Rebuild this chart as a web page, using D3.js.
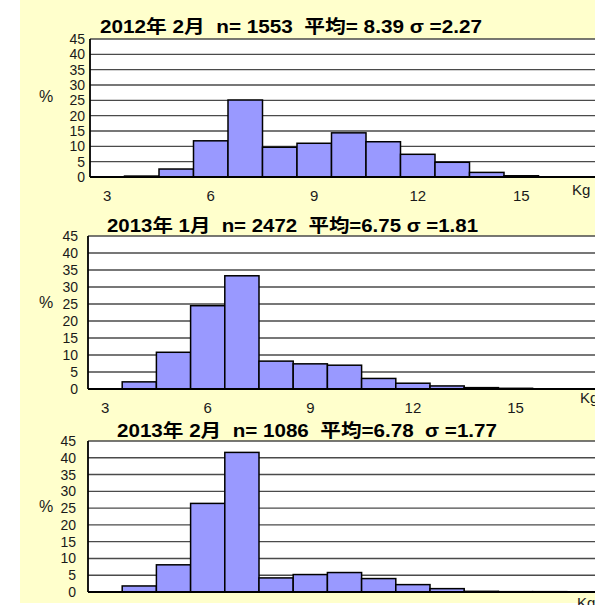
<!DOCTYPE html>
<html>
<head>
<meta charset="utf-8">
<script src="https://cdn.jsdelivr.net/npm/d3@7"></script>
<style>
  body { margin: 0; background: #fff; }
  svg { display: block; }
  text { font-family: "Liberation Sans", Arial, "Noto Sans CJK JP", sans-serif; }
</style>
</head>
<body>
<script>
var width = 595;
var height = 605;

// kg classes (bars centred on whole kilograms)
var kg = [3, 4, 5, 6, 7, 8, 9, 10, 11, 12, 13, 14, 15, 16, 17];
var xTicks = [3, 6, 9, 12, 15];
var yTicks = [0, 5, 10, 15, 20, 25, 30, 35, 40, 45];

// percent of fish in each class
var feb2012 = [0, 0.3, 2.6, 11.8, 25.1, 9.7, 11.0, 14.4, 11.5, 7.4, 4.8, 1.5, 0.4, 0, 0];
var jan2013 = [0, 2.1, 10.8, 24.5, 33.3, 8.2, 7.4, 7.0, 3.1, 1.7, 0.9, 0.4, 0.2, 0, 0];
var feb2013 = [0, 1.8, 8.1, 26.4, 41.6, 4.2, 5.2, 5.8, 4.0, 2.2, 1.0, 0.2, 0.1, 0.1, 0];

var titles = [
  "2012年 2月  n= 1553  平均= 8.39 σ =2.27",
  "2013年 1月  n= 2472  平均=6.75 σ =1.81",
  "2013年 2月  n= 1086  平均=6.78  σ =1.77"
];

var svg = d3.select("body").append("svg")
    .attr("width", width)
    .attr("height", height);

// yellow chart area
svg.append("rect")
    .attr("x", 20).attr("y", 0)
    .attr("width", width - 20).attr("height", 603)
    .attr("fill", "#ffffcc");

var panels = [
  {values: feb2012, title: titles[0], left: 90, top: 39, bottom: 177, band: 34.5,
   titleX: 100, titleY: 33, titleW: 382, labelGap: 5, pctY: 96, kgX: 572, kgY: 195},
  {values: jan2013, title: titles[1], left: 88, top: 236, bottom: 389, band: 34.2,
   titleX: 107, titleY: 232, titleW: 371, labelGap: 10, pctY: 302, kgX: 580, kgY: 403},
  {values: feb2013, title: titles[2], left: 88, top: 441, bottom: 592, band: 34.2,
   titleX: 117, titleY: 437, titleW: 380, labelGap: 12, pctY: 506, kgX: 577, kgY: 608}
];

panels.forEach(function(p) {
  var x = d3.scaleBand()
      .domain(kg)
      .range([p.left, p.left + p.band * kg.length])
      .padding(0);

  var y = d3.scaleLinear()
      .domain([0, 45])
      .range([p.bottom, p.top]);

  var g = svg.append("g");

  // plot area
  g.append("rect")
      .attr("x", p.left).attr("y", p.top)
      .attr("width", width - p.left + 20).attr("height", p.bottom - p.top)
      .attr("fill", "#fff");

  // gridlines
  g.selectAll(".grid")
    .data(yTicks.slice(1))
  .enter().append("line")
    .attr("x1", p.left).attr("x2", width + 10)
    .attr("y1", function(d) { return y(d); })
    .attr("y2", function(d) { return y(d); })
    .attr("stroke", "#4a4a4a")
    .attr("stroke-width", 1.4);

  var data = kg.map(function(k, i) { return {k: k, v: p.values[i]}; })
      .filter(function(d) { return d.v > 0; });

  g.selectAll(".bar")
    .data(data)
  .enter().append("rect")
    .attr("x", function(d) { return x(d.k); })
    .attr("y", function(d) { return y(d.v); })
    .attr("width", x.bandwidth())
    .attr("height", function(d) { return y(0) - y(d.v); })
    .attr("fill", "#9999ff")
    .attr("stroke", "#000")
    .attr("stroke-width", 1.5);

  // axes lines
  g.append("line")
      .attr("x1", p.left).attr("x2", p.left)
      .attr("y1", p.top).attr("y2", p.bottom)
      .attr("stroke", "#000").attr("stroke-width", 1.8);
  g.append("line")
      .attr("x1", p.left).attr("x2", width + 10)
      .attr("y1", p.bottom).attr("y2", p.bottom)
      .attr("stroke", "#000").attr("stroke-width", 2);

  // y tick labels
  g.selectAll(".ylab")
    .data(yTicks)
  .enter().append("text")
    .attr("x", p.left - p.labelGap)
    .attr("y", function(d) { return y(d); })
    .attr("dy", "0.36em")
    .attr("text-anchor", "end")
    .attr("font-size", 14)
    .attr("fill", "#1a1a1a")
    .text(function(d) { return d; });

  // x tick labels (the last panel's fall below the picture)
  if (p.bottom + 24 - 10 < height) {
    g.selectAll(".xlab")
      .data(xTicks)
    .enter().append("text")
      .attr("x", function(d) { return x(d) + x.bandwidth() / 2; })
      .attr("y", p.bottom + 24)
      .attr("text-anchor", "middle")
      .attr("font-size", 15)
      .attr("fill", "#1a1a1a")
      .text(function(d) { return d; });
  }

  g.append("text")
      .attr("x", 46).attr("y", p.pctY)
      .attr("dy", "0.36em")
      .attr("text-anchor", "middle")
      .attr("font-size", 16)
      .attr("fill", "#1a1a1a")
      .text("%");

  g.append("text")
      .attr("x", p.kgX).attr("y", p.kgY)
      .attr("font-size", 15)
      .attr("fill", "#1a1a1a")
      .text("Kg");

  g.append("text")
      .attr("x", p.titleX).attr("y", p.titleY)
      .attr("font-size", 18)
      .attr("font-weight", "bold")
      .attr("fill", "#000")
      .attr("textLength", p.titleW)
      .attr("lengthAdjust", "spacingAndGlyphs")
      .style("white-space", "pre")
      .text(p.title);
});
</script>
</body>
</html>
